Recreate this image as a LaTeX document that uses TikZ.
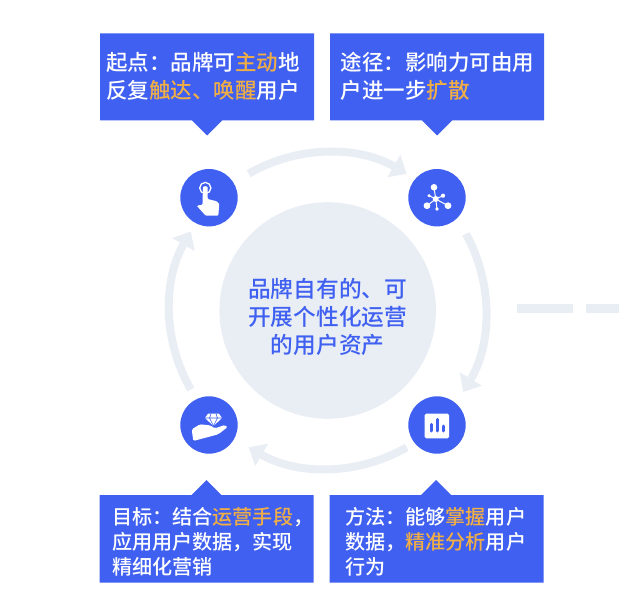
\documentclass[tikz,border=0pt]{standalone}
\usepackage{fontspec}
\setmainfont{Noto Sans CJK SC Medium}
\usetikzlibrary{arrows.meta}
\definecolor{brandblue}{HTML}{3F60F0}
\definecolor{palering}{HTML}{E9EEF5}
\definecolor{accent}{HTML}{F0AE45}
\newcommand{\hl}[1]{\textcolor{accent}{#1}}
\newcommand{\fwcolon}{\char"FF1A\relax}
\newcommand{\fwcomma}{\char"FF0C\relax}
\begin{document}
\begin{tikzpicture}[x=1pt, y=-1pt, ringarw/.style={palering, line width=8pt, -{Triangle[length=15pt, width=25pt]}}, iconball/.style={circle, fill=brandblue, minimum size=57.4pt, inner sep=0pt}, toptext/.style={text=white, anchor=west, align=left, inner sep=0pt, font=\fontsize{21.5}{27.5}\selectfont}, lowtext/.style={text=white, anchor=west, align=left, inner sep=0pt, font=\fontsize{20.1}{25}\selectfont}]
        \useasboundingbox (0,0) rectangle (619,607);
        \fill[white] (0,0) rectangle (619,607);
        \node[circle, fill=palering, minimum size=216.6pt, inner sep=0pt] (hub) at (327.7,310.5) {};
        \node[text=brandblue, align=center, inner sep=0pt, font=\fontsize{22.7}{28}\selectfont] (hubtext) at (327.7,317) {品牌自有的、可\\开展个性化运营\\的用户资产};
        \foreach \a in {-120,-29,60,150} {\draw[ringarw] ([shift={(\a:158)}]hub.center) arc[start angle=\a, delta angle=60, radius=158];}
        \coordinate (dashstart) at (517,308.5);
        \coordinate (dashend) at (619,308.5);
        \draw[palering, line width=9pt, dash pattern=on 56pt off 13pt] (dashstart) -- (dashend);
        \foreach \x/\t in {100/207,330/437} {\fill[brandblue] (\x,33.5) -- (\x+214,33.5) -- (\x+214,120.5) -- (\t+15,120.5) -- (\t,135.5) -- (\t-15,120.5) -- (\x,120.5) -- cycle;}
        \foreach \x/\t in {99.5/206.5,329.5/436} {\fill[brandblue] (\x,495) -- (\t-15,495) -- (\t,480) -- (\t+15,495) -- (\x+214,495) -- (\x+214,582.5) -- (\x,582.5) -- cycle;}
        \node[toptext] (starttext) at (106,76.5) {起点\fwcolon 品牌可\hl{主动}地\\反复\hl{触达、唤醒}用户};
        \node[toptext] (pathtext) at (340.5,76.5) {途径\fwcolon 影响力可由用\\户进一步\hl{扩散}};
        \node[lowtext] (goaltext) at (112,542) {目标\fwcolon 结合\hl{运营手段}\fwcomma\\应用用户数据\fwcomma 实现\\精细化营销};
        \node[lowtext] (waytext) at (345,542) {方法\fwcolon 能够\hl{掌握}用户\\数据\fwcomma\hl{精准分析}用户\\行为};
        \node[iconball] (touchball) at (209,197.7) {};
        \node[iconball] (netball) at (437,197.7) {};
        \node[iconball] (gemball) at (209,425) {};
        \node[iconball] (chartball) at (437,425) {};
        \draw[white, line width=1.3pt] (205.3,188) circle (5.6);
        \fill[white, rounded corners=1pt] (196.7,205.7) -- (202.5,204.7) -- (202.9,188.5) arc[start angle=180, delta angle=180, radius=2.4] -- (207.7,199) -- (216.7,201.3) -- (219.3,204) -- (218.3,215.7) -- (205.7,215.7) -- cycle;
        \foreach \p/\r in {(434,187.3)/3.3,(427,205.7)/3.4,(448,205.7)/3.4,(437,209)/1.9,(443,195.7)/2.1,(429,195.7)/1.7,(435.7,199)/3} {\fill[white] \p circle (\r);}
        \foreach \p in {(434,187.3),(427,205.7),(448,205.7),(437,209),(443,195.7),(429,195.7)} {\draw[white, line width=1pt] (435.7,199) -- \p;}
        \fill[white] (208,413.7) -- (219,413.7) -- (222,418) -- (213.5,426) -- (205,418) -- cycle;
        \draw[brandblue, line width=0.6pt] (205,418) -- (222,418) (211,413.7) -- (209.5,418) -- (213.5,426) -- (217.5,418) -- (216,413.7);
        \fill[white, rounded corners=1.5pt] (191.7,429.3) -- (200,424.3) -- (210,425.3) -- (215,428.3) -- (225,425) -- (227.7,427) -- (218.3,434.3) -- (208.3,437) -- (193.3,441) -- cycle;
        \fill[white, rounded corners=1.5pt] (424.7,413.7) rectangle (449,438.3);
        \foreach \x/\y in {431.3/424.3,437/419.3,443/426} {\draw[brandblue, line width=3pt, line cap=round] (\x,\y) -- (\x,431);}
      \end{tikzpicture}
\end{document}
